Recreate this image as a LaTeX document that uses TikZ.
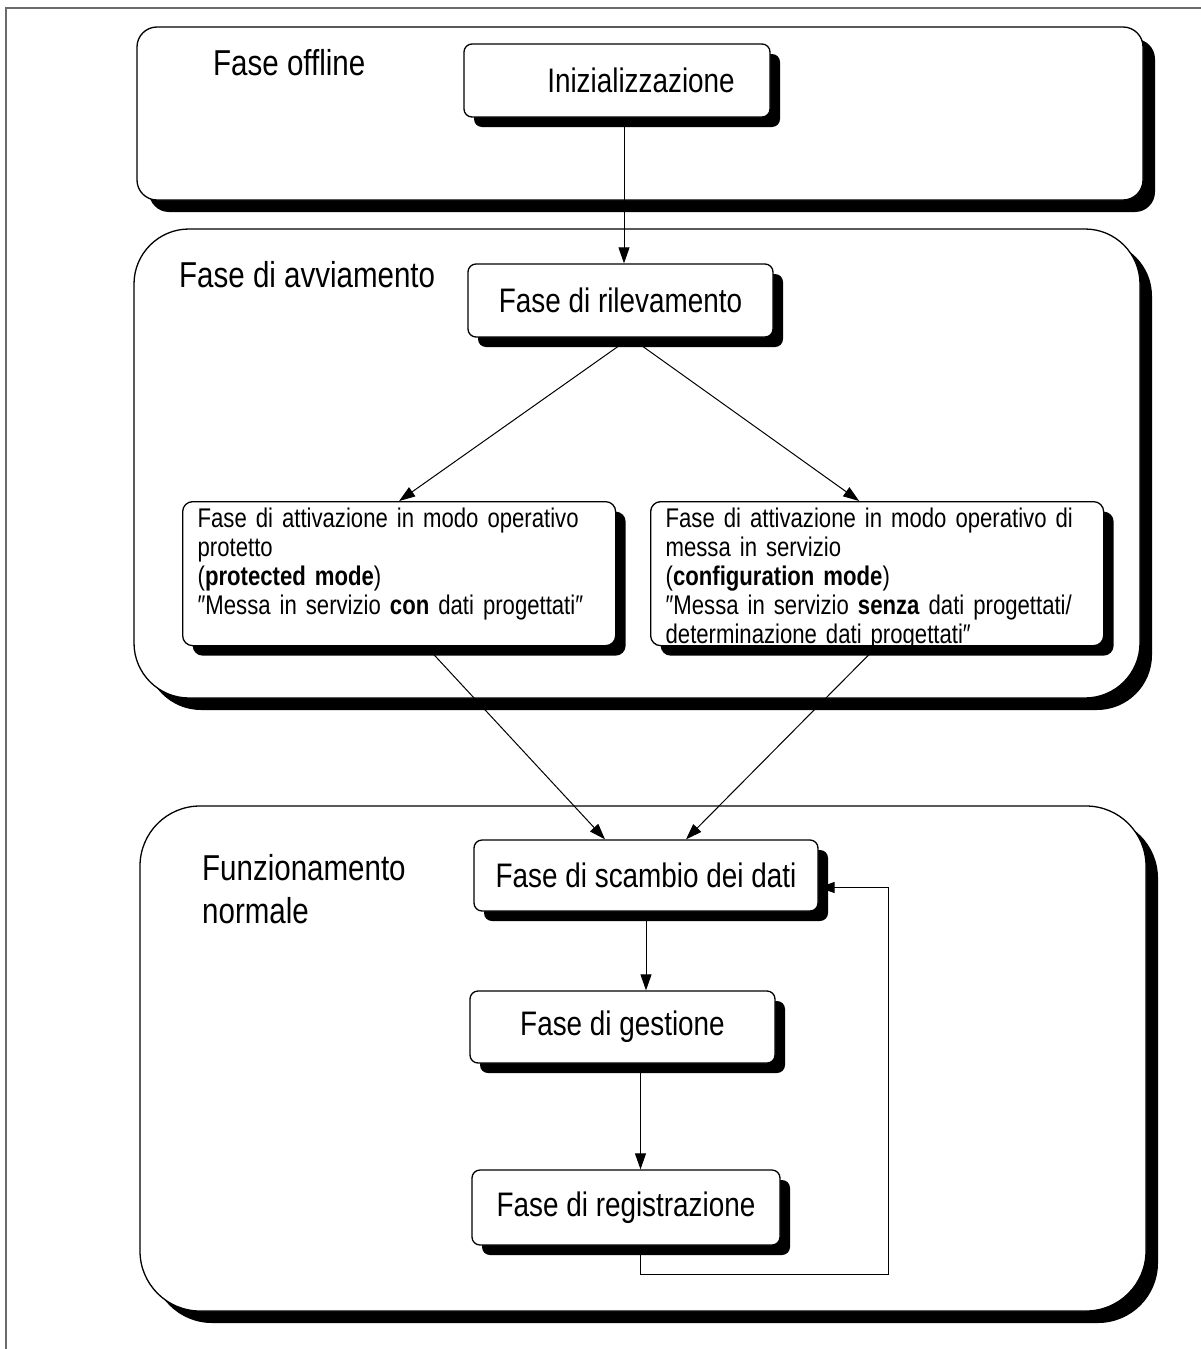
\documentclass[tikz,border=0pt]{standalone}
\usepackage{fontspec}
\setmainfont{Liberation Sans}[FakeStretch=0.82]
\usetikzlibrary{positioning,shadows,arrows.meta}
\definecolor{framegray}{gray}{0.42}
\pgfdeclarelayer{frames}
\pgfdeclarelayer{wires}
\pgfsetlayers{frames,wires,main}
\hyphenpenalty=10000

\begin{document}
\begin{tikzpicture}[x=1pt,y=-1pt]
  \tikzset{
    phase/.style={draw,line width=1.3pt,fill=white,
      drop shadow={shadow xshift=12pt,shadow yshift=-12pt,fill=black,opacity=1}},
    stepbox/.style={draw,line width=1.3pt,fill=white,rounded corners=8pt,
      minimum height=73pt,inner sep=0pt,font=\fontsize{34}{40}\selectfont,
      drop shadow={shadow xshift=10pt,shadow yshift=-10pt,fill=black,opacity=1}},
    modebox/.style={stepbox,rounded corners=10pt,anchor=north west,align=left,
      inner xsep=15pt,inner ysep=6pt,text height=20pt,text depth=112pt,
      font=\fontsize{27}{29}\selectfont},
    title/.style={font=\fontsize{36}{43}\selectfont,inner sep=0pt,
      anchor=base west,align=left},
    wire/.style={line width=1pt,-{Triangle[length=16pt,width=11pt]}}
  }
  \useasboundingbox (0,0) rectangle (1201,1349);

  % the three phases
  \begin{pgfonlayer}{frames}
    \draw[framegray,line width=2.5pt] (1201,8) -- (6,8) -- (6,1349);
    \draw[phase,rounded corners=20pt] (137,27) rectangle (1143,200);
    \draw[phase,rounded corners=55pt] (134,229) rectangle (1140,698);
    \draw[phase,rounded corners=60pt] (140,806) rectangle (1146,1311);
  \end{pgfonlayer}
  \node[title] (toffline) at (213,75) {Fase offline};
  \node[title] (tavvio) at (179,287) {Fase di avviamento};
  \node[title] (tnormale) at (202,923) {Funzionamento\\normale};

  % steps
  \node[stepbox,minimum width=306pt] (init) at (617,80.5) {\hspace*{48pt}Inizializzazione};
  \node[stepbox,minimum width=305pt] (rilev) at (620.5,300.5) {Fase di rilevamento};
  \node[modebox,text width=403pt] (protetto) at (182,501)
    {Fase di attivazione in modo operativo\\protetto\\(\textbf{protected mode})\\
     ″Messa in servizio \textbf{con} dati progettati″};
  \node[modebox,text width=423pt] (config) at (650,501)
    {Fase di attivazione in modo operativo di\\messa in servizio\\(\textbf{configuration mode})\\
     ″Messa in servizio \textbf{senza} dati progettati/\\determinazione dati progettati″};
  \node[stepbox,minimum width=344pt,minimum height=71pt] (scambio) at (646,875.5) {Fase di scambio dei dati};
  \node[stepbox,minimum width=305pt,minimum height=72pt] (gestione) at (622.5,1027) {Fase di gestione};
  \node[stepbox,minimum width=308pt,minimum height=75pt] (registr) at (626,1207.5) {Fase di registrazione};
  \coordinate (ritorno) at (888,1274);

  % connections
  \begin{pgfonlayer}{wires}
    \draw[wire] ([xshift=7pt]init.south) -- ([xshift=7pt]init.south |- rilev.north);
    \draw[wire] ([xshift=10pt]rilev.south) -- (protetto.north);
    \draw[wire] ([xshift=10pt]rilev.south) -- ([xshift=-18pt]config.north);
    \draw[wire] ([xshift=27pt]protetto.south) -- ([xshift=-41pt]scambio.north);
    \draw[wire] (config.south) -- ([xshift=40pt]scambio.north);
    \draw[wire] (scambio.south) -- (scambio.south |- gestione.north);
    \draw[wire] ([xshift=18pt]gestione.south) -- ([xshift=18pt]gestione.south |- registr.north);
    \draw[wire] ([xshift=14pt]registr.south) |- (ritorno) |- ([yshift=-12pt]scambio.east);
  \end{pgfonlayer}
\end{tikzpicture}
\end{document}
